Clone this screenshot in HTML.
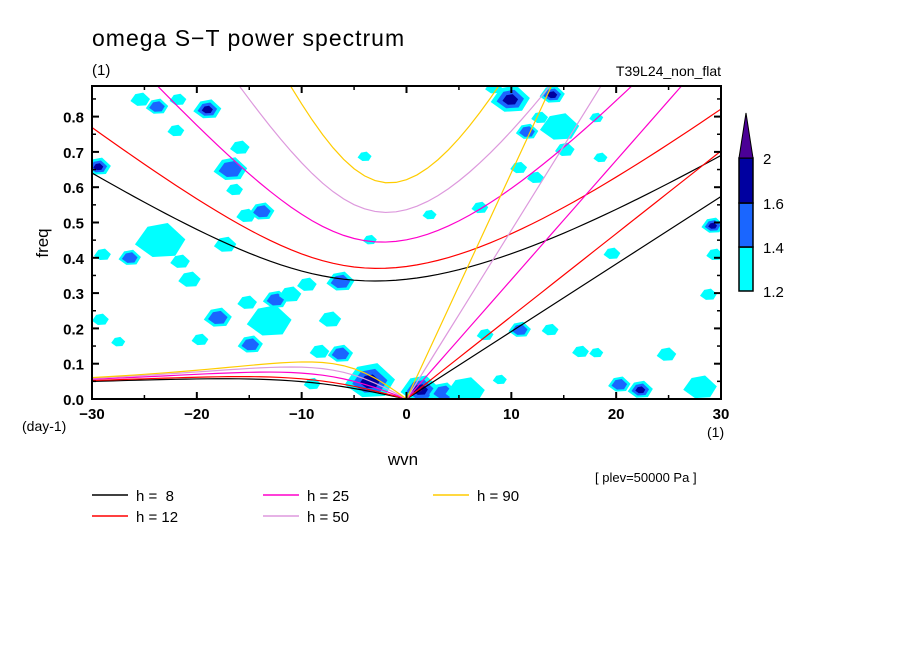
<!DOCTYPE html>
<html><head><meta charset="utf-8">
<style>
body{margin:0;background:#fff;width:904px;height:654px;overflow:hidden;font-family:"Liberation Sans",sans-serif;}
svg{display:block}
text{font-family:"Liberation Sans",sans-serif;fill:#000;white-space:pre}
</style></head>
<body>
<svg id="chart" width="904" height="654" viewBox="0 0 904 654">
<defs><clipPath id="pc"><rect x="92" y="86" width="629" height="313"/></clipPath></defs>
<text x="92" y="46" font-size="23" letter-spacing="1">omega S−T power spectrum</text>
<text x="92" y="75" font-size="15">(1)</text>
<text x="721" y="76" font-size="14" text-anchor="end">T39L24_non_flat</text>
<g id="blobs" clip-path="url(#pc)"></g>
<g id="curves" clip-path="url(#pc)"></g>
<rect x="92" y="86" width="629" height="313" fill="none" stroke="#000" stroke-width="2"/>
<g id="axes"></g>
<text x="48" y="243" font-size="17" text-anchor="middle" transform="rotate(-90 48 243)">freq</text>
<text x="22" y="431" font-size="14">(day-1)</text>
<text x="403" y="465" font-size="17" text-anchor="middle">wvn</text>
<text x="707" y="437" font-size="14">(1)</text>
<text x="595" y="482" font-size="13">[ plev=50000 Pa ]</text>
<g id="legend"></g>
<g id="cbar"></g>
</svg>
<script>
const depths=[8,12,25,50,90];
const depthColors=["#000000","#ff0000","#ff00cc","#dd99dd","#ffcc00"];
const yTicks=[0,0.1,0.2,0.3,0.4,0.5,0.6,0.7,0.8];
const xTicks=[-30,-20,-10,0,10,20,30];
const levels=[1.2,1.4,1.6,2];
const levelColors=["#00ffff","#1a66ff","#0000a0","#4b0096"];
const blobK=[-29.4,-25.4,-23.8,-21.8,-19,-22,-16.8,-16.4,-13.8,-15.3,-17.3,-23.5,-21.6,-26.4,-29,-20.7,-18,-15.2,-14.9,-13.1,-12.5,-11.1,-9.5,-6.3,-7.3,-8.3,-6.3,-4.2,-3.5,-9,1.3,3.5,5.6,9.9,13.9,12.7,11.5,14.6,8.3,13.7,16.6,20.3,22.3,28,24.8,29.2,29.4,28.8,19.6,18.1,10.7,12.3,15.1,18.1,18.5,7,-3.5,2.2,-4,-15.9,-19.7,-27.5,-29.2,7.5,10.8,8.9];
const blobF=[0.657,0.847,0.827,0.847,0.819,0.759,0.649,0.592,0.530,0.518,0.436,0.445,0.388,0.399,0.408,0.337,0.229,0.272,0.153,0.218,0.280,0.295,0.323,0.331,0.224,0.133,0.127,0.068,0.048,0.042,0.025,0.017,0.02,0.847,0.861,0.796,0.756,0.768,0.88,0.195,0.133,0.04,0.025,0.031,0.125,0.49,0.408,0.295,0.411,0.130,0.654,0.626,0.705,0.796,0.683,0.541,0.45,0.521,0.686,0.711,0.167,0.161,0.224,0.181,0.195,0.054];
const blobLevel=[3,1,2,1,3,1,2,1,2,1,1,1,1,2,1,1,2,1,2,1,2,1,1,2,1,1,2,1,3,1,4,2,1,3,3,1,2,1,1,1,1,2,3,1,1,3,1,1,1,1,1,1,1,1,1,1,1,1,1,1,1,1,1,1,2,1];
const blobW=[9,7,8,6,10,6,12,6,9,7,8,18,7,8,6,8,10,7,9,16,9,8,7,10,8,7,9,8,18,6,14,10,14,14,9,6,8,14,6,6,6,8,9,12,7,8,6,6,6,5,6,6,7,5,5,6,5,5,5,7,6,5,6,6,8,5];
const NS='http://www.w3.org/2000/svg';
const X0=92,X1=721,Y0=399,YPER=353;
const xs=k=>406.5+(k)*(X1-X0)/60;
const ys=f=>Y0-f*YPER;
function mk(tag,attrs,parent){const e=document.createElementNS(NS,tag);for(const a in attrs)e.setAttribute(a,attrs[a]);parent.appendChild(e);return e;}
const bg=document.getElementById('blobs');
for(let i=0;i<blobK.length;i++){
  const cx=xs(blobK[i]),cy=ys(blobF[i]),w=blobW[i]*1.4;
  for(let l=0;l<blobLevel[i];l++){
    const s=1-l*0.3;
    const pts=[[cx-w*s,cy+w*0.1*s],[cx-w*0.5*s,cy-w*0.6*s],[cx+w*0.3*s,cy-w*0.75*s],[cx+w*s,cy-w*0.1*s],[cx+w*0.6*s,cy+w*0.55*s],[cx-w*0.3*s,cy+w*0.6*s]];
    const p=mk('polygon',{points:pts.map(q=>q.join(',')).join(' '),fill:levelColors[l]},bg);
    
    
  }
}
const a=6.371e6,Om=7.292e-5,beta=2*Om/a,g=9.81,cpd=86400/(2*Math.PI);
function root(A,B,w0){let w=w0;for(let i=0;i<60;i++){const f=w*w*w-A*w-B,d=3*w*w-A;w-=f/d;}return w;}
const cg=document.getElementById('curves');
depths.forEach((h,di)=>{
  const c=Math.sqrt(g*h);
  let ig=[],ro=[],ke=[];
  for(let s=-30;s<=30;s++){
    const k=s/a,A=c*c*k*k+3*beta*c,B=beta*c*c*k;
    const w=root(A,B,Math.sqrt(A)*1.5+1e-6);
    ig.push([xs(s),ys(w*cpd)]);
    if(s<=0){const wr=s===0?0:root(A,B,-B/A);ro.push([xs(s),ys(wr*cpd)]);}
    if(s>=0){ke.push([xs(s),ys(c*k*cpd)]);}
  }
  [ig,ro,ke].forEach((pts,j)=>{
    const pl=mk('polyline',{points:pts.map(q=>q.join(',')).join(' '),fill:'none',stroke:depthColors[di],'stroke-width':1.2},cg);
    
    
  });
});
const ax=document.getElementById('axes');
yTicks.forEach(v=>{
  const y=ys(v);
  mk('line',{x1:X0,x2:X0+7,y1:y,y2:y,stroke:'#000','stroke-width':2},ax);
  mk('line',{x1:X1,x2:X1-7,y1:y,y2:y,stroke:'#000','stroke-width':2},ax);
  const t=mk('text',{x:X0-8,y:y+6,'font-size':15,'font-weight':'bold','text-anchor':'end'},ax);
  t.textContent=v.toFixed(1);
  
  
});
for(let v=0.05;v<0.88;v+=0.1){const y=ys(v);
  mk('line',{x1:X0,x2:X0+4,y1:y,y2:y,stroke:'#000','stroke-width':1.5},ax);
  mk('line',{x1:X1,x2:X1-4,y1:y,y2:y,stroke:'#000','stroke-width':1.5},ax);}
xTicks.forEach(v=>{
  const x=xs(v);
  mk('line',{x1:x,x2:x,y1:Y0,y2:Y0-7,stroke:'#000','stroke-width':2},ax);
  mk('line',{x1:x,x2:x,y1:86,y2:93,stroke:'#000','stroke-width':2},ax);
  const t=mk('text',{x:x,y:419,'font-size':15,'font-weight':'bold','text-anchor':'middle'},ax);
  t.textContent=v<0?'−'+(-v):String(v);
  
  
});
for(let v=-25;v<30;v+=10){const x=xs(v);
  mk('line',{x1:x,x2:x,y1:Y0,y2:Y0-4,stroke:'#000','stroke-width':1.5},ax);
  mk('line',{x1:x,x2:x,y1:86,y2:90,stroke:'#000','stroke-width':1.5},ax);}
const lg=document.getElementById('legend');
const legX=[92,92,263,263,433],legY=[495,516,495,516,495],legTxt=['h =  8','h = 12','h = 25','h = 50','h = 90'];
depths.forEach((h,i)=>{
  const l=mk('line',{x1:legX[i],x2:legX[i]+36,y1:legY[i],y2:legY[i],stroke:depthColors[i],'stroke-width':1.5},lg);
  
  
  const t=mk('text',{x:legX[i]+44,y:legY[i]+6,'font-size':15},lg);
  t.textContent=legTxt[i];
  
  
});
const cb=document.getElementById('cbar');
const cby=[291,247,203,158];
for(let i=0;i<3;i++){mk('rect',{x:739,y:cby[i+1],width:14,height:cby[i]-cby[i+1],fill:levelColors[i],stroke:'#000','stroke-width':1.5},cb);}
mk('polygon',{points:'739,158 753,158 746,113',fill:levelColors[3],stroke:'#000','stroke-width':1},cb);
levels.forEach((v,i)=>{const t=mk('text',{x:763,y:cby[i]+6,'font-size':15},cb);t.textContent=String(v);
  
  });
</script>
</body></html>
